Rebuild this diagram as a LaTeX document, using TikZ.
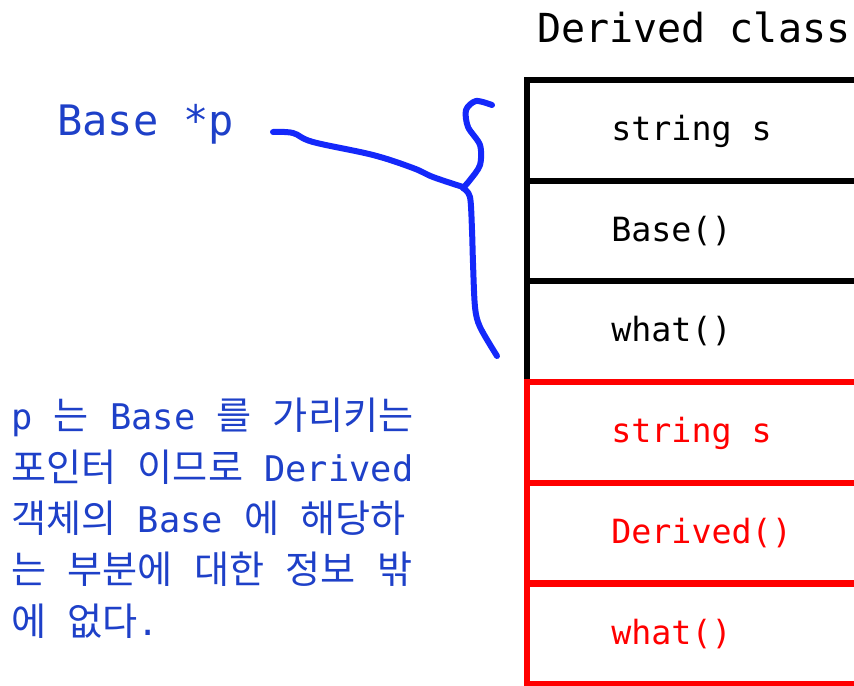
\documentclass[tikz,border=0pt]{standalone}
\usepackage{fontspec}
\newfontfamily\monofont{DejaVu Sans Mono}
\newfontfamily\korfont[Scale=1.08]{Noto Sans CJK KR}
\newcommand{\hangul}[1]{{\korfont #1}}
\definecolor{penblue}{RGB}{20,40,250}
\definecolor{noteblue}{RGB}{30,64,200}
\definecolor{memred}{RGB}{255,0,0}

\begin{document}
\begin{tikzpicture}[x=0.75pt,y=-0.75pt,
	cell/.style={draw, line width=4.5pt, minimum width=247.5pt, minimum height=75.5pt, inner sep=0pt},
	member/.style={anchor=base west, inner sep=0pt, font=\monofont\fontsize{25}{30}\selectfont},
	pen/.style={penblue, line width=4.5pt, line cap=round, line join=round}]
	\clip (0,0) rectangle (854,686);
	\node[anchor=base west, inner sep=0pt, font=\monofont\fontsize{30}{36}\selectfont] (title) at (537,42) {Derived class};
	\foreach \i/\txt/\col in {1/string s/black, 2/Base()/black, 3/what()/black, 4/string s/memred, 5/Derived()/memred, 6/what()/memred}{
		\node[cell, draw=\col] (cell\i) at (692,{29.65+100.7*\i}) {};
		\node[member, text=\col] (txt\i) at (611,{39.85+100.7*\i}) {\txt};
	}
	\node[anchor=base west, inner sep=0pt, text=noteblue, font=\monofont\fontsize{31.5}{36}\selectfont] (ptr) at (57,135) {Base *p};
	\node[anchor=base west, inner sep=0pt, align=left, text=noteblue, font=\monofont\fontsize{26.5}{38.5}\selectfont] (memo) at (11,635)
		{p \hangul{는} Base \hangul{를} \hangul{가리키는}\\
		\hangul{포인터} \hangul{이므로} Derived\\
		\hangul{객체의} Base \hangul{에} \hangul{해당하}\\
		\hangul{는} \hangul{부분에} \hangul{대한} \hangul{정보} \hangul{밖}\\
		\hangul{에} \hangul{없다}.};
	% hand-drawn brace
	\draw[pen] plot[smooth, tension=0.6] coordinates {(273,132) (293,133) (313,142) (373,155) (413,168) (433,177) (463,187)};
	\draw[pen] plot[smooth] coordinates {(463,188) (470,197) (472,230) (473,263) (475,307) (480,327) (497,356)};
	\draw[pen] plot[smooth] coordinates {(463,188) (470,180) (480,165) (480,145) (468,127) (466,110) (476,101) (492,105)};
\end{tikzpicture}
\end{document}
